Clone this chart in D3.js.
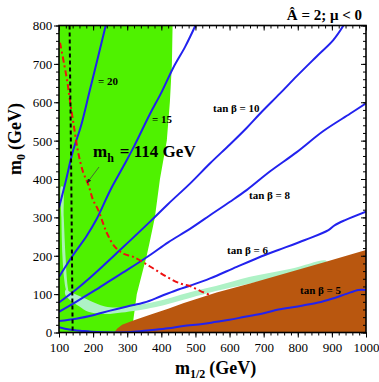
<!DOCTYPE html>
<html><head><meta charset="utf-8">
<script src="https://cdn.jsdelivr.net/npm/d3@7"></script>
<style>body{margin:0;background:#fff}svg{display:block}text{font-family:'Liberation Serif','Times New Roman',serif}</style>
</head><body>
<script>
// ---- data (m1/2, m0) in GeV ----
const xTicks = [100,200,300,400,500,600,700,800,900,1000];
const yTicks = [0,100,200,300,400,500,600,700,800];
const greenRegion = [[100,0],[100,800],[433,800],[431,700],[425,600],[416,500],[396,400],[381,300],[365,232],[357,200],[328,100],[313,0]];
const wmapStrip = [[106,380],[107,300],[110,200],[115,140],[121,110],[128,100],[124,130],[119,200],[114,300],[111,380]];
const wmapBand = [[118,100],[132,85],[160,68],[186,54],[235,48],[284,52],[381,66],[484,90],[560,108],[660,128],[780,152],[885,183],
                  [880,188],[780,166],[660,145],[560,121],[484,105],[381,80],[284,66],[235,68],[186,85],[160,95],[132,106],[120,112]];
const stauRegion = [[262,0],[270,10],[285,20],[320,32],[367,46],[420,62],[464,76],[562,104],[660,128],[770,156],[880,184],[1000,215],[1000,0]];
const tb20 = [[100,325],[120,395],[140,470],[165,540],[190,630],[215,720],[237,800]];
const tb15 = [[100,145],[140,200],[180,250],[210,295],[250,370],[290,435],[320,485],[367,570],[400,625],[435,690],[470,745],[500,800]];
const tb10 = [[100,78],[150,112],[200,150],[279,215],[367,289],[420,335],[484,388],[543,441],[601,490],[650,533],[689,570],[748,623],[797,668],[856,720],[904,762],[934,800]];
const tb8  = [[100,54],[150,80],[200,107],[250,135],[300,163],[367,202],[420,235],[484,270],[550,310],[600,340],[650,371],[719,420],[797,470],[875,525],[953,570],[1000,597]];
const tb6  = [[100,30],[150,36],[200,45],[250,57],[300,68],[350,78],[400,95],[450,112],[484,122],[543,141],[621,171],[704,202],[743,215],[821,241],[890,267],[909,280],[939,293],[1000,315]];
const tb5  = [[100,14],[130,8],[170,4],[210,1],[260,0],[310,1],[367,6],[420,11],[464,17],[520,22],[562,28],[600,33],[645,41],[700,50],[743,60],[800,68],[860,78],[900,88],[940,100],[978,111],[1000,111]];
const higgs = [[103,755],[115,700],[125,650],[132,605],[145,530],[156,470],[170,420],[186,385],[200,345],[215,319],[240,260],[264,223],[290,205],[318,197],[367,172],[416,145],[455,128],[484,121],[515,108],[547,96]];
const chargino = [[131,800],[136,400],[140,0]];
const tbLabels = [
  {text:"= 20", at:[98,85]}, {text:"= 15", at:[152,123]}, {text:"tan β = 10", at:[213,112]},
  {text:"tan β = 8", at:[249,199]}, {text:"tan β = 6", at:[227,254]}, {text:"tan β = 5", at:[300,294]}
];

const W = 379, H = 382;
const FONT = "'Liberation Serif','Times New Roman',serif";
const m = {l:59, r:366, t:25.5, b:332.5};
const x = d3.scaleLinear().domain([100,1000]).range([m.l, m.r]);
const y = d3.scaleLinear().domain([0,800]).range([m.b, m.t]);

const svg = d3.select("body").append("svg").attr("width",W).attr("height",H).attr("font-family",FONT);

const defs = svg.append("defs");
defs.append("clipPath").attr("id","clip")
  .append("rect").attr("x",m.l).attr("y",m.t).attr("width",m.r-m.l).attr("height",m.b-m.t);

const g = svg.append("g").attr("clip-path","url(#clip)");
const area = d3.line().x(d=>x(d[0])).y(d=>y(d[1]));
const curveN = d3.line().x(d=>x(d[0])).y(d=>y(d[1])).curve(d3.curveCatmullRom);
const closedN = d3.line().x(d=>x(d[0])).y(d=>y(d[1])).curve(d3.curveCatmullRomClosed);

g.append("path").attr("d", area(greenRegion)+"Z").attr("fill","#4ff200");
g.append("path").attr("d", closedN(wmapStrip)).attr("fill","#b8f5d0").attr("opacity",0.85);
g.append("path").attr("d", closedN(wmapBand)).attr("fill","#aef2c6");
g.append("path").attr("d", area(stauRegion)+"Z").attr("fill","#b9570f");

[tb20,tb15,tb10,tb8,tb6,tb5].forEach(s=>{
  g.append("path").attr("d", curveN(s)).attr("fill","none").attr("stroke","#2222ee").attr("stroke-width",2);
});
g.append("path").attr("d", curveN(higgs)).attr("fill","none").attr("stroke","#ee1111")
  .attr("stroke-width",2).attr("stroke-dasharray","6,3,2,3");
g.append("path").attr("d", area(chargino)).attr("fill","none").attr("stroke","#000")
  .attr("stroke-width",2).attr("stroke-dasharray","4,3");

// axes
const minorX = d3.range(100,1001,20), minorY = d3.range(0,801,20);
function axisDraw(ax, tr, size, vals, labels){
  const a = svg.append("g").attr("transform",tr)
    .call(ax.tickValues(vals).tickSize(size).tickFormat(labels? d3.format("d") : ""));
  a.attr("font-family",FONT).attr("font-size",13);
  a.select(".domain").remove();
  a.selectAll("line").attr("stroke","#000").attr("stroke-width",1);
  a.selectAll("text").attr("fill","#000");
  return a;
}
axisDraw(d3.axisBottom(x), `translate(0,${m.b})`, 5, xTicks, true).selectAll("text").attr("dy","0.9em");
axisDraw(d3.axisBottom(x), `translate(0,${m.b})`, 3, minorX, false);
axisDraw(d3.axisLeft(y), `translate(${m.l},0)`, 5, yTicks, true).selectAll("text").attr("dx","0.1em").attr("dy","0.34em");
axisDraw(d3.axisLeft(y), `translate(${m.l},0)`, 3, minorY, false);
axisDraw(d3.axisBottom(x), `translate(0,${m.t})`, 5, xTicks, false);
axisDraw(d3.axisBottom(x), `translate(0,${m.t})`, 3, minorX, false);
axisDraw(d3.axisRight(y), `translate(${m.r},0)`, -5, yTicks, false);
axisDraw(d3.axisRight(y), `translate(${m.r},0)`, -3, minorY, false);

svg.append("rect").attr("x",m.l).attr("y",m.t).attr("width",m.r-m.l).attr("height",m.b-m.t)
  .attr("fill","none").attr("stroke","#000").attr("stroke-width",1.6);

// tan beta labels
tbLabels.forEach(l=>{
  svg.append("text").attr("x",l.at[0]).attr("y",l.at[1]).attr("font-size",11).attr("font-weight","bold").text(l.text);
});

// m_h label
const mh = svg.append("text").attr("x",93).attr("y",157).attr("font-size",17).attr("font-weight","bold");
mh.append("tspan").text("m");
mh.append("tspan").attr("font-size",12).attr("dy",5).text("h");
mh.append("tspan").attr("dy",-5).attr("dx",6).text("= 114 GeV");
defs.append("marker").attr("id","ah").attr("viewBox","0 0 10 10").attr("refX",9).attr("refY",5)
  .attr("markerWidth",6).attr("markerHeight",6).attr("orient","auto")
  .append("path").attr("d","M0,1L10,5L0,9Z").attr("fill","#222");
svg.append("line").attr("x1",99).attr("y1",167).attr("x2",87).attr("y2",183)
  .attr("stroke","#444").attr("stroke-width",0.8).attr("marker-end","url(#ah)");

// title
svg.append("text").attr("x",362).attr("y",20).attr("text-anchor","end").attr("font-size",15).attr("font-weight","bold")
  .text("Â = 2; μ < 0");

// axis titles
const xl = svg.append("text").attr("x",175).attr("y",374).attr("font-size",18).attr("font-weight","bold");
xl.append("tspan").text("m");
xl.append("tspan").attr("font-size",12).attr("dy",4).text("1/2");
xl.append("tspan").attr("dy",-4).attr("dx",4).text("(GeV)");
const yl = svg.append("text").attr("transform","translate(21,139) rotate(-90)").attr("text-anchor","middle").attr("font-size",18).attr("font-weight","bold");
yl.append("tspan").text("m");
yl.append("tspan").attr("font-size",12).attr("dy",4).text("0");
yl.append("tspan").attr("dy",-4).attr("dx",4).text("(GeV)");
</script>
</body></html>
